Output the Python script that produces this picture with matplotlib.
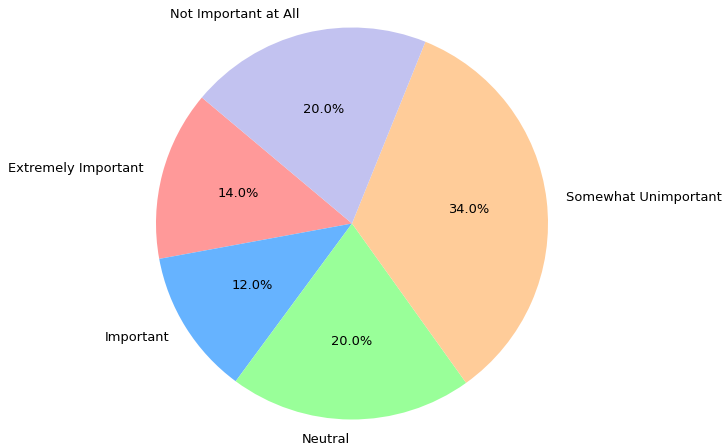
import matplotlib
matplotlib.use("Agg")
import matplotlib.pyplot as plt

labels = ['Extremely Important', 'Important', 'Neutral',
          'Somewhat Unimportant', 'Not Important at All']
shares = [14, 12, 20, 34, 20]
colors = ['#ff9999', '#66b3ff', '#99ff99', '#ffcc99', '#c2c2f0']

W, H = 724, 448
cx, cy, r = 352, 223.5, 196  # pie centre and radius in pixels

fig = plt.figure(figsize=(W / 100, H / 100), dpi=100)
ax = fig.add_axes([0.0, 0.0, 1.0, 1.0])
ax.pie(shares, labels=labels, colors=colors, autopct='%1.1f%%',
       startangle=140, textprops={'fontsize': 9.4})
ax.set_aspect('auto')
ax.set_xlim(-cx / r, (W - cx) / r)
ax.set_ylim(-(H - cy) / r, cy / r)

fig.savefig('out.png', dpi=100)
